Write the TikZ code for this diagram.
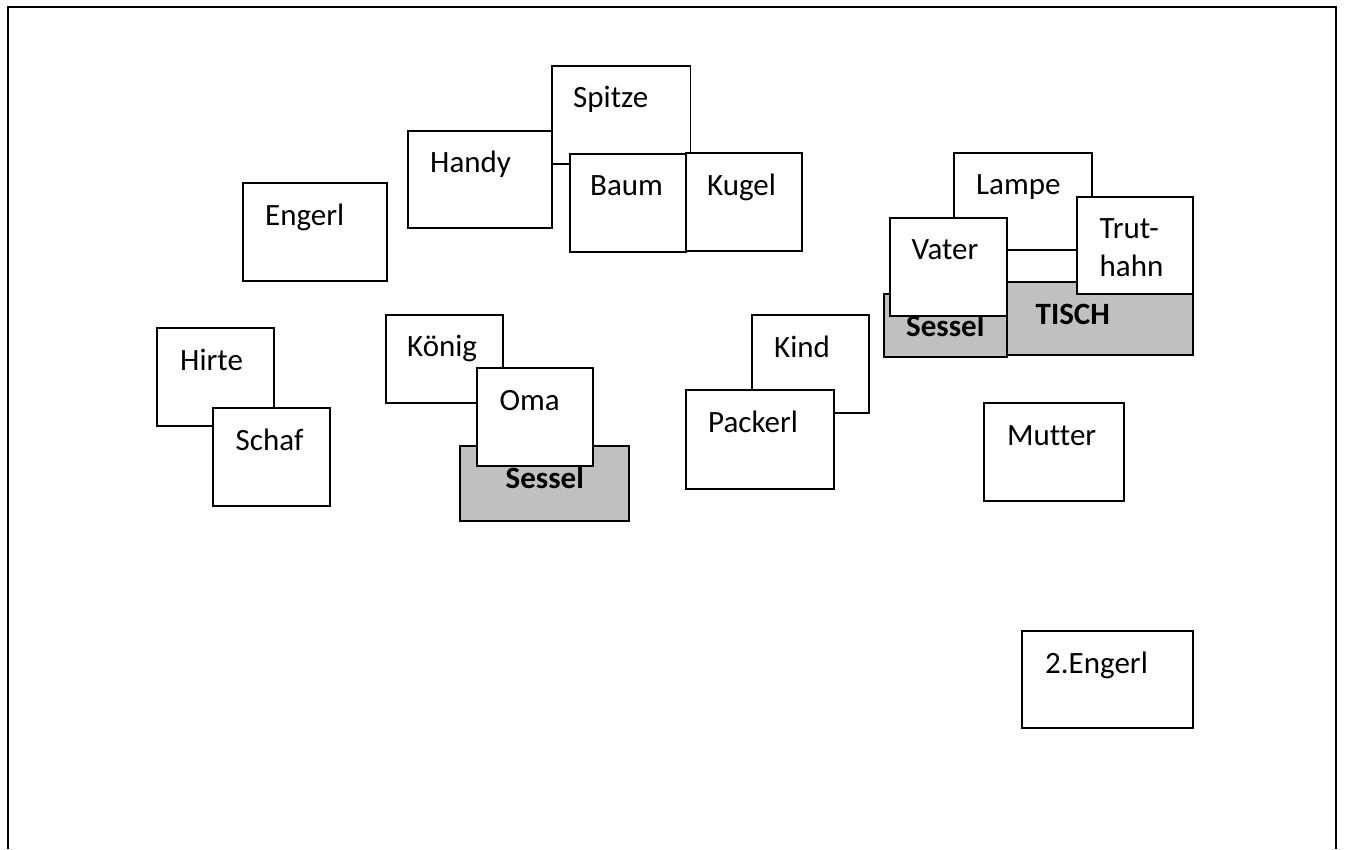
\documentclass[tikz,border=0pt]{standalone}
\usepackage{fontspec}
\setmainfont[Ligatures={NoCommon}]{Carlito}
\definecolor{seatgray}{RGB}{192,192,192}
\begin{document}
\begin{tikzpicture}[x=1pt,y=-1pt,
  box/.style={draw=black, line width=1.4pt, fill=white, anchor=north west, inner sep=0pt, outer sep=0pt},
  graybox/.style={box, fill=seatgray},
  lbl/.style={anchor=base west, inner sep=0pt, font=\fontsize{31}{38}\selectfont},
  blbl/.style={anchor=base west, inner sep=0pt, font=\fontsize{31}{38}\selectfont\bfseries}]
\useasboundingbox (0,0) rectangle (1346,849);
\fill[white] (0,0) rectangle (1346,849);
% outer frame (open at the bottom)
\coordinate (fbl) at (8,849);
\coordinate (ftl) at (8,7);
\coordinate (ftr) at (1336,7);
\coordinate (fbr) at (1336,849);
\draw[line width=2.2pt] (fbl) -- (ftl) -- (ftr) -- (fbr);

% top group
\node[box, minimum width=138.5pt, minimum height=98pt] (spitze) at (552,66) {};
\node[lbl] (spitzeT) at ([shift={(21,41)}]spitze.north west) {Spitze};
\node[box, minimum width=144pt, minimum height=97pt] (handy) at (408,131) {};
\node[lbl] (handyT) at ([shift={(22,41.5)}]handy.north west) {Handy};
\node[box, minimum width=116pt, minimum height=98pt] (baum) at (570,154) {};
\node[lbl] (baumT) at ([shift={(20,41.5)}]baum.north west) {Baum};
\node[box, minimum width=116pt, minimum height=98pt] (kugel) at (686,153) {};
\node[lbl] (kugelT) at ([shift={(21,42)}]kugel.north west) {Kugel};

% Engerl
\node[box, minimum width=144pt, minimum height=98pt] (engerl) at (243,183) {};
\node[lbl] (engerlT) at ([shift={(22,42.5)}]engerl.north west) {Engerl};

% Hirte / Schaf
\node[box, minimum width=117pt, minimum height=98pt] (hirte) at (157,328) {};
\node[lbl] (hirteT) at ([shift={(23,42)}]hirte.north west) {Hirte};
\node[box, minimum width=117pt, minimum height=98pt] (schaf) at (213,408) {};
\node[lbl] (schafT) at ([shift={(22.5,42)}]schaf.north west) {Schaf};

% Koenig / Oma / Sessel
\node[box, minimum width=117pt, minimum height=88pt] (koenig) at (386,315) {};
\node[lbl] (koenigT) at ([shift={(21,41.5)}]koenig.north west) {König};
\node[graybox, minimum width=169pt, minimum height=75pt] (sessel1) at (460,446) {};
\node[blbl] (sessel1T) at ([shift={(45.5,42.3)}]sessel1.north west) {Sessel};
\node[box, minimum width=116pt, minimum height=98pt] (oma) at (477,368) {};
\node[lbl] (omaT) at ([shift={(22.5,42)}]oma.north west) {Oma};

% Kind / Packerl
\node[box, minimum width=117pt, minimum height=98pt] (kind) at (752,315) {};
\node[lbl] (kindT) at ([shift={(22,42)}]kind.north west) {Kind};
\node[box, minimum width=148pt, minimum height=99pt] (packerl) at (686,390) {};
\node[lbl] (packerlT) at ([shift={(22,42)}]packerl.north west) {Packerl};

% Tisch group
\node[graybox, minimum width=186pt, minimum height=73pt] (tisch) at (1007,282) {};
\node[blbl] (tischT) at ([shift={(28.5,42.3)}]tisch.north west) {TISCH};
\node[graybox, minimum width=123pt, minimum height=63pt] (sessel2) at (884,294) {};
\node[blbl] (sessel2T) at ([shift={(22,42.7)}]sessel2.north west) {Sessel};
\node[box, minimum width=138pt, minimum height=97pt] (lampe) at (954,153) {};
\node[lbl] (lampeT) at ([shift={(22,41.5)}]lampe.north west) {Lampe};
\node[box, minimum width=117pt, minimum height=98pt] (vater) at (890,218) {};
\node[lbl] (vaterT) at ([shift={(21.5,41.5)}]vater.north west) {Vater};
\node[box, minimum width=116pt, minimum height=97pt] (trut) at (1077,197) {};
\node[lbl] (trutT) at ([shift={(22.5,41)}]trut.north west) {Trut-};
\node[lbl] (hahnT) at ([shift={(22.5,79.3)}]trut.north west) {hahn};

% Mutter
\node[box, minimum width=140pt, minimum height=98pt] (mutter) at (984,403) {};
\node[lbl] (mutterT) at ([shift={(23,42)}]mutter.north west) {Mutter};

% 2. Engerl
\node[box, minimum width=171pt, minimum height=97pt] (engerl2) at (1022,631) {};
\node[lbl] (engerl2T) at ([shift={(23,42)}]engerl2.north west) {2.Engerl};
\end{tikzpicture}
\end{document}
